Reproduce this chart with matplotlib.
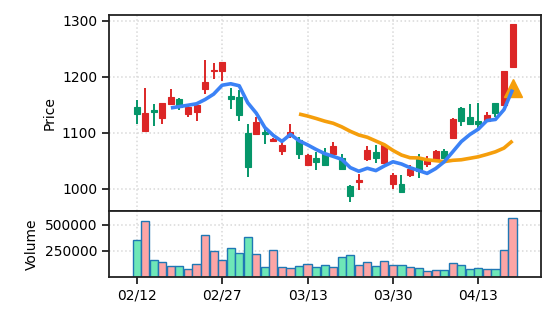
import matplotlib
matplotlib.use("Agg")
import matplotlib.pyplot as plt
from matplotlib.patches import Rectangle
import numpy as np
import pandas as pd

tick_labels = ["02/12", "02/27", "03/13", "03/30", "04/13"]
tick_index = [0, 10, 20, 30, 40]

opens = [1146, 1103, 1141, 1127, 1152, 1160, 1134, 1138, 1179, 1210,
         1211, 1166, 1165, 1100, 1098, 1101, 1086, 1067, 1094, 1088,
         1042, 1055, 1064, 1062, 1056, 1005, 1012, 1054, 1066, 1047,
         1008, 1008, 1025, 1054, 1045, 1053, 1068, 1091, 1145, 1129,
         1122, 1122, 1153, 1150, 1218]
highs = [1159, 1181, 1152, 1154, 1179, 1163, 1148, 1156, 1230, 1225,
         1227, 1180, 1176, 1115, 1128, 1109, 1091, 1089, 1116, 1092,
         1062, 1065, 1073, 1083, 1062, 1006, 1027, 1077, 1079, 1080,
         1028, 1025, 1043, 1062, 1058, 1070, 1072, 1126, 1146, 1151,
         1154, 1138, 1154, 1211, 1295]
lows = [1116, 1101, 1113, 1115, 1150, 1141, 1129, 1122, 1170, 1196,
        1193, 1143, 1122, 1021, 1097, 1081, 1083, 1061, 1091, 1054,
        1041, 1034, 1041, 1061, 1034, 976, 998, 1049, 1047, 1046,
        1000, 994, 1021, 1020, 1039, 1052, 1054, 1090, 1113, 1114,
        1106, 1120, 1129, 1149, 1217]
closes = [1134, 1135, 1137, 1153, 1164, 1146, 1147, 1150, 1191, 1212,
          1226, 1160, 1132, 1039, 1119, 1098, 1089, 1079, 1102, 1062,
          1061, 1048, 1042, 1077, 1036, 987, 1015, 1069, 1056, 1078,
          1024, 995, 1036, 1031, 1052, 1067, 1056, 1125, 1122, 1115,
          1116, 1132, 1135, 1210, 1294]
volumes = [355000, 539000, 159000, 139000, 100000, 100000, 71000, 120000, 400000, 245000,
           159000, 274000, 226000, 381000, 216000, 94000, 255000, 94000, 81000, 100000,
           120000, 91000, 110000, 94000, 188000, 207000, 110000, 139000, 100000, 149000,
           110000, 110000, 91000, 81000, 52000, 62000, 62000, 130000, 110000, 71000,
           81000, 71000, 71000, 258000, 565000]
signal_index = [44]
signal_price = [1180]

UP_C = "#dc2626"
DN_C = "#059669"
UP_V = "#fca5a5"
DN_V = "#6ee7b7"

x = np.arange(len(closes))
close_s = pd.Series(closes, dtype=float)
ma5 = close_s.rolling(5).mean()
ma20 = close_s.rolling(20).mean()

fig = plt.figure(figsize=(5.56, 3.22), dpi=100)
gs = fig.add_gridspec(2, 1, height_ratios=[3, 1], hspace=0,
                      left=0.196, right=0.9725, top=0.954, bottom=0.1407)
ax = fig.add_subplot(gs[0])
axv = fig.add_subplot(gs[1], sharex=ax)

grid_kw = dict(color="#d9d9d9", linestyle=":", linewidth=1.1)
for a in (ax, axv):
    a.grid(True, **grid_kw)
    a.set_axisbelow(True)
    for s in a.spines.values():
        s.set_linewidth(1.3)
        s.set_color("#222222")
    a.tick_params(length=5, width=1.3, labelsize=10, color="#222222")

bw = 0.7
for i in range(len(closes)):
    o, h, l, c = opens[i], highs[i], lows[i], closes[i]
    col = UP_C if c >= o else DN_C
    ax.vlines(x[i], l, h, color=col, linewidth=1.4, zorder=2)
    lo, hi = min(o, c), max(o, c)
    if hi - lo < 1.5:
        lo, hi = (lo + hi) / 2 - 0.75, (lo + hi) / 2 + 0.75
    ax.add_patch(Rectangle((x[i] - bw / 2, lo), bw, hi - lo, facecolor=col,
                           edgecolor=col, linewidth=0.8, zorder=3))

ax.plot(signal_index, signal_price, marker="^", color="#f59e0b", markersize=13,
        linestyle="none", zorder=4)
ax.plot(x, ma20, color="#f59e0b", linewidth=2.6, zorder=5, solid_capstyle="butt")
ax.plot(x, ma5, color="#3b82f6", linewidth=2.6, zorder=6, solid_capstyle="butt")

ax.set_ylim(960, 1311)
ax.set_yticks([1000, 1100, 1200, 1300])
ax.set_ylabel("Price", fontsize=10)
ax.tick_params(axis="x", which="both", bottom=False, labelbottom=False)

vcols = [UP_V if closes[i] >= opens[i] else DN_V for i in range(len(closes))]
axv.bar(x, volumes, width=0.95, color=vcols, edgecolor="#1f77b4", linewidth=1.0, zorder=2)
axv.set_ylim(0, 628000)
axv.set_yticks([250000, 500000])
axv.set_ylabel("Volume", fontsize=10)
axv.set_xticks(tick_index)
axv.set_xticklabels(tick_labels)
axv.set_xlim(-3.25, 47.3)

fig.savefig("out.png", dpi=100)
